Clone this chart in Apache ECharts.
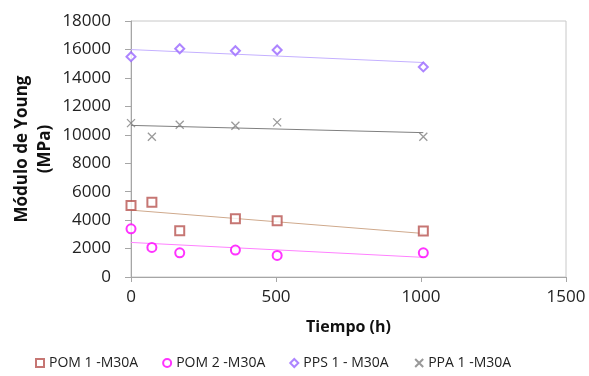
<!DOCTYPE html>
<html>
<head>
<meta charset="utf-8">
<script src="https://cdn.jsdelivr.net/npm/echarts@6/dist/echarts.min.js"></script>
<style>
  html, body { margin: 0; padding: 0; background: #fff; }
  #chart { width: 589px; height: 376px; }
</style>
</head>
<body>
<div id="chart"></div>
<script>
// horas de ensayo
const tiempos = [0, 72, 168, 360, 504, 1008]
const tiemposPPS = [0, 168, 360, 504, 1008]

// módulo de Young (MPa)
const pom1 = [5020, 5260, 3250, 4090, 3950, 3230]
const pom2 = [3390, 2080, 1700, 1890, 1520, 1700]
const pps1 = [15490, 16050, 15910, 15960, 14770]
const ppa1 = [10820, 9860, 10700, 10640, 10870, 9860]

// líneas de tendencia (extremos)
const tendX = [0, 1008]
const pom1Tend = [4700, 3060]
const pom2Tend = [2430, 1380]
const pps1Tend = [15990, 15080]
const ppa1Tend = [10660, 10150]

const yTicks = [0, 2000, 4000, 6000, 8000, 10000, 12000, 14000, 16000, 18000]
const xTicks = [0, 500, 1000, 1500]

const font = '"Open Sans", sans-serif'
const pares = (xs, ys) => xs.map((x, i) => [x, ys[i]])

const chart = echarts.init(document.getElementById('chart'), null, { renderer: 'canvas' })

const scatter = (name, xs, ys, symbol, color, size) => ({
	name,
	type: 'scatter',
	data: pares(xs, ys),
	symbol,
	symbolSize: size,
	itemStyle: symbol.startsWith('path')
		? { color: 'none', borderColor: color, borderWidth: 1.3 }
		: { color, borderWidth: 1.3 },
	z: 3
})

const tendencia = (ys, color) => ({
	type: 'line',
	data: pares(tendX, ys),
	symbol: 'none',
	silent: true,
	lineStyle: { color, width: 1 },
	z: 2
})

const cruz = 'path://M0,0L10,10M10,0L0,10'

const options = {
	animation: false,
	grid: {
		left: 131,
		right: 23,
		top: 21,
		bottom: 99,
		outerBoundsMode: 'none',
		containLabel: false,
		show: true,
		borderColor: '#c8c8c8',
		borderWidth: 1
	},
	legend: {
		data: ['POM 1 -M30A', 'POM 2 -M30A', 'PPS 1 - M30A', 'PPA 1 -M30A'],
		left: 30,
		bottom: 1,
		itemWidth: 8,
		itemHeight: 8,
		itemGap: 24,
		textStyle: { fontFamily: font, fontSize: 14, color: '#222' }
	},
	xAxis: {
		type: 'value',
		min: 0,
		max: 1500,
		interval: 500,
		name: 'Tiempo (h)',
		nameLocation: 'middle',
		nameGap: 42,
		nameMoveOverlap: false,
		nameTextStyle: { fontFamily: font, fontSize: 16, fontWeight: 'bold', color: '#111' },
		axisLine: { lineStyle: { color: '#a6a6a6' } },
		axisTick: { show: true, length: 5, lineStyle: { color: '#a6a6a6' } },
		axisLabel: { fontFamily: font, fontSize: 17, color: '#222', margin: 12,
			formatter: v => xTicks.includes(v) ? String(v) : '' },
		splitLine: { show: false }
	},
	yAxis: {
		type: 'value',
		min: 0,
		max: 18000,
		interval: 2000,
		name: 'Módulo de Young\n(MPa)',
		nameLocation: 'middle',
		nameRotate: 90,
		nameGap: 74,
		nameMoveOverlap: false,
		nameTextStyle: { fontFamily: font, fontSize: 17, fontWeight: 'bold', color: '#111', lineHeight: 23 },
		axisLine: { show: true, lineStyle: { color: '#a6a6a6' } },
		axisTick: { show: true, length: 6, lineStyle: { color: '#a6a6a6' } },
		axisLabel: { fontFamily: font, fontSize: 17, color: '#222', margin: 20,
			formatter: v => yTicks.includes(v) ? String(v) : '' },
		splitLine: { show: false }
	},
	series: [
		tendencia(pom1Tend, '#cfa98c'),
		tendencia(pom2Tend, '#ff80ff'),
		tendencia(pps1Tend, '#c4b0ff'),
		tendencia(ppa1Tend, '#7f7f7f'),
		scatter('POM 1 -M30A', tiempos, pom1, 'emptyRect', '#b85450', 9),
		scatter('POM 2 -M30A', tiempos, pom2, 'emptyCircle', '#ff00ff', 9),
		scatter('PPS 1 - M30A', tiemposPPS, pps1, 'emptyDiamond', '#9966ff', 9),
		scatter('PPA 1 -M30A', tiempos, ppa1, cruz, '#808080', 8)
	]
}

chart.setOption(options)
</script>
</body>
</html>
